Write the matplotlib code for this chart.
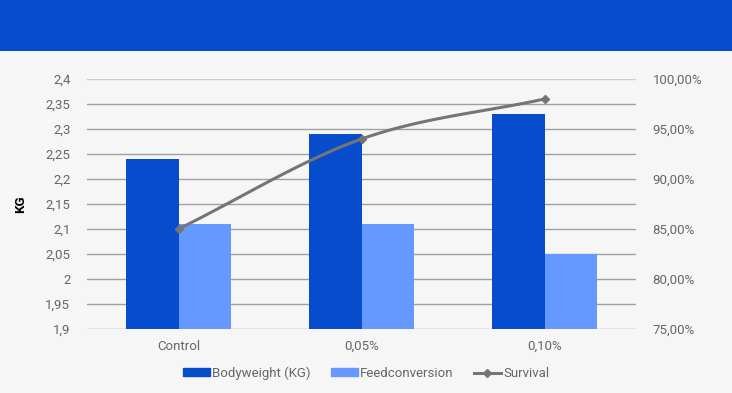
import numpy as np
import matplotlib.pyplot as plt
from matplotlib.lines import Line2D
from matplotlib.patches import Patch, Rectangle
from matplotlib.ticker import FuncFormatter

plt.rcParams['font.family'] = ['Roboto', 'DejaVu Sans']

# Data
categories = ['Control', '0,05%', '0,10%']
bodyweight = [2.24, 2.29, 2.33]
feedconversion = [2.11, 2.11, 2.05]
survival = [85.0, 94.0, 98.0]

BG = '#f6f6f6'
DARK = '#074ccd'
LIGHT = '#6699ff'
LINE = '#757575'
TXT = '#666666'

fig = plt.figure(figsize=(7.32, 3.93), dpi=100, facecolor=BG)

# blue header band
fig.patches.append(Rectangle((0, 1 - 51/393), 1, 51/393, transform=fig.transFigure,
                             facecolor=DARK, edgecolor='none', zorder=0))

ax = fig.add_axes([87/732, 1 - 329/393, 549/732, 250/393])
ax.set_facecolor(BG)
x = np.arange(len(categories))
w = 0.287
ax.bar(x - w/2, bodyweight, w, color=DARK, zorder=3)
ax.bar(x + w/2, feedconversion, w, color=LIGHT, zorder=3)
ax.set_xlim(-0.5, 2.5)
ax.set_ylim(1.9, 2.4)
ax.set_yticks(np.arange(1.9, 2.401, 0.05))
ax.yaxis.set_major_formatter(FuncFormatter(lambda v, p: ('%g' % round(v, 2)).replace('.', ',')))
ax.set_xticks(x)
ax.set_xticklabels(categories)
ax.grid(axis='y', color='#a0a0a0', linewidth=1, zorder=0)
ax.get_ygridlines()[-1].set_color('#cccccc')
for s in ax.spines.values():
    s.set_visible(False)
ax.tick_params(length=0, colors=TXT, labelsize=9.5)
ax.tick_params(axis='y', pad=12)
ax.tick_params(axis='x', pad=8)
ax.set_ylabel('KG', fontweight='bold', fontsize=9.5, color='black')
ax.yaxis.set_label_coords(-60/549, 0.5)

ax2 = ax.twinx()
ax2.set_ylim(75, 100)
ax2.set_yticks(np.arange(75, 100.1, 5))
ax2.yaxis.set_major_formatter(FuncFormatter(lambda v, p: ('%.2f%%' % v).replace('.', ',')))
for s in ax2.spines.values():
    s.set_visible(False)
ax2.tick_params(length=0, colors=TXT, labelsize=9.5, pad=12)

# smooth curve through the survival points (Catmull-Rom style)
px = x.astype(float)
py = np.array(survival)
ext_x = np.concatenate([[2*px[0]-px[1]], px, [2*px[-1]-px[-2]]])
ext_y = np.concatenate([[2*py[0]-py[1]], py, [2*py[-1]-py[-2]]])
cx, cy = [], []
for i in range(1, len(ext_x) - 2):
    t = np.linspace(0, 1, 40)
    p0, p1, p2, p3 = [np.array([ext_x[j], ext_y[j]]) for j in range(i-1, i+3)]
    seg = 0.5 * ((2*p1)[:, None] + (-p0 + p2)[:, None]*t + (2*p0 - 5*p1 + 4*p2 - p3)[:, None]*t**2
                 + (-p0 + 3*p1 - 3*p2 + p3)[:, None]*t**3)
    cx.extend(seg[0]); cy.extend(seg[1])
ax2.plot(cx, cy, color=LINE, linewidth=2.2, zorder=4)
ax2.plot(px, py, 'D', color=LINE, markersize=4, zorder=5)

handles = [Patch(color=DARK), Patch(color=LIGHT),
           Line2D([0], [0], color=LINE, lw=2.2, marker='D', markersize=4)]
fig.legend(handles, ['Bodyweight (KG)', 'Feedconversion', 'Survival'],
           loc='center', bbox_to_anchor=(0.5, 1 - 373/393), ncol=3, frameon=False,
           fontsize=9.5, labelcolor=TXT, handlelength=2.05, handleheight=0.45,
           handletextpad=0.2, columnspacing=1.5)

fig.savefig('out.png', dpi=100, facecolor=BG)
